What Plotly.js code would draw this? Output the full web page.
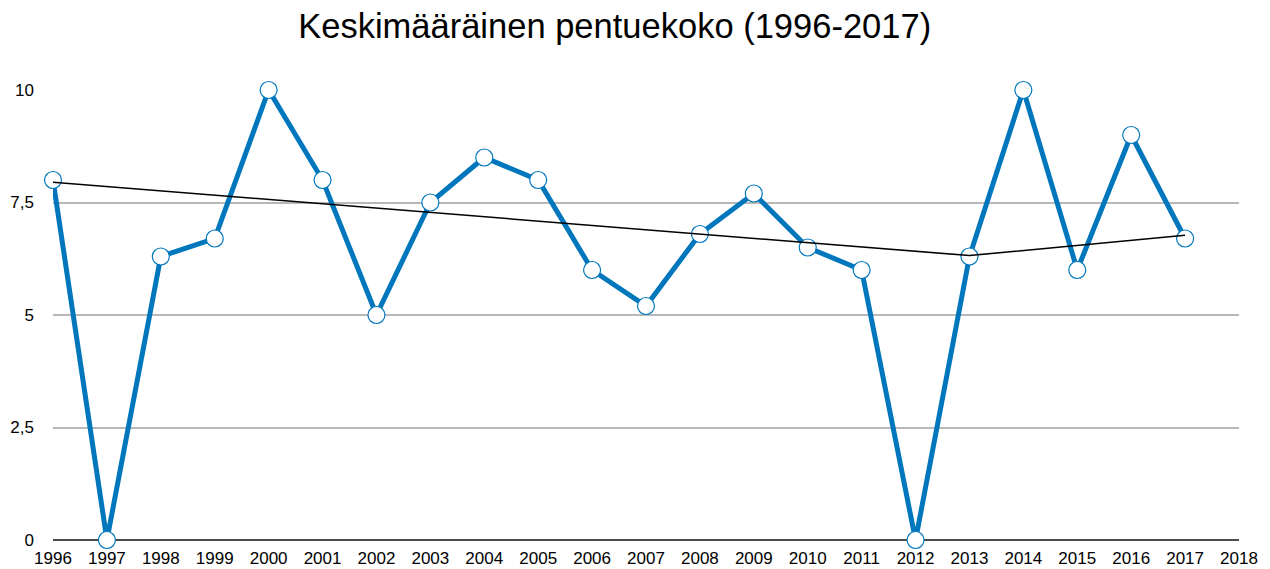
<!DOCTYPE html>
<html>
<head>
<meta charset="utf-8">
<script src="https://cdn.plot.ly/plotly-3.0.1.min.js"></script>
<style>html,body{margin:0;padding:0;background:#fff;}#chart{width:1270px;height:569px;}</style>
</head>
<body>
<div id="chart"></div>
<script>
const years = [1996,1997,1998,1999,2000,2001,2002,2003,2004,2005,2006,2007,2008,2009,2010,2011,2012,2013,2014,2015,2016,2017];
const litterSize = [8.0,0,6.3,6.7,10,8.0,5.0,7.5,8.5,8.0,6.0,5.2,6.8,7.7,6.5,6.0,0,6.3,10,6.0,9.0,6.7];
const trendYears = [1996,2013,2017];
const trendValues = [7.95,6.32,6.77];
const xTicks = [1996,1997,1998,1999,2000,2001,2002,2003,2004,2005,2006,2007,2008,2009,2010,2011,2012,2013,2014,2015,2016,2017,2018];
const yTicks = [0,2.5,5,7.5,10];
const yTickLabels = ['0','2,5','5','7,5','10'];

const data = [
  {
    x: years, y: litterSize, type: 'scatter', mode: 'lines+markers',
    line: {color: '#0077BD', width: 5},
    marker: {size: 17, color: '#ffffff', line: {color: '#0077BD', width: 1.2}},
    cliponaxis: false, hoverinfo: 'x+y'
  },
  {
    x: trendYears, y: trendValues, type: 'scatter', mode: 'lines',
    line: {color: '#000000', width: 1.5}, cliponaxis: false, hoverinfo: 'skip'
  }
];

const layout = {
  width: 1270, height: 569,
  margin: {l: 53, r: 31, t: 90, b: 29},
  paper_bgcolor: '#fff', plot_bgcolor: '#fff',
  showlegend: false,
  font: {family: 'Liberation Sans, Arial, sans-serif', color: '#000', size: 17},
  title: {text: 'Keskimääräinen pentuekoko (1996-2017)', font: {size: 34.5, color: '#000'},
          x: 0.484, xanchor: 'center', xref: 'container', y: 0.955, yanchor: 'middle'},
  xaxis: {
    range: [1996, 2018], tickmode: 'array', tickvals: xTicks, ticktext: xTicks.map(String),
    showgrid: false, zeroline: false, showline: false, ticks: '', ticklabelstandoff: 6,
    tickfont: {size: 17, color: '#000'}, fixedrange: true
  },
  yaxis: {
    range: [0, 10], tickmode: 'array', tickvals: yTicks, ticktext: yTickLabels,
    showgrid: true, gridcolor: '#B8B8B8', gridwidth: 2,
    zeroline: true, zerolinecolor: '#4a4a4a', zerolinewidth: 2,
    showline: false, ticks: '', ticklabelstandoff: 18,
    tickfont: {size: 17, color: '#000'}, fixedrange: true
  }
};

Plotly.newPlot('chart', data, layout, {displayModeBar: false, staticPlot: true});
</script>
</body>
</html>
